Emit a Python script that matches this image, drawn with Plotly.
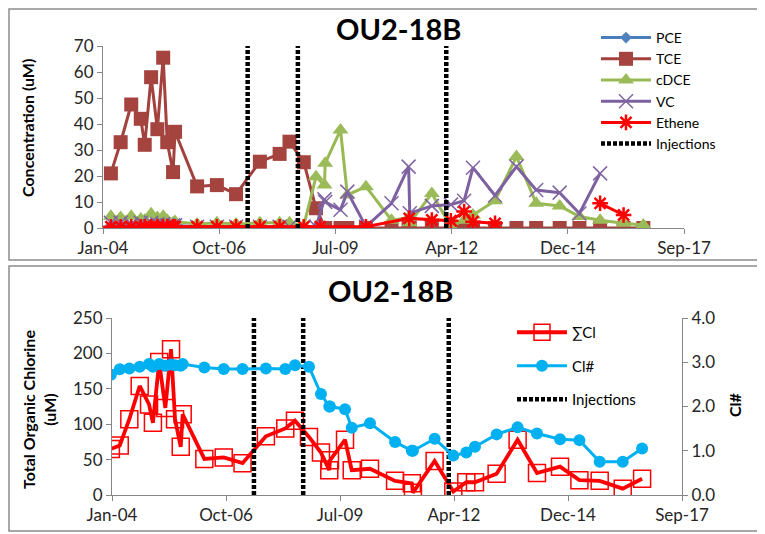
import pandas as pd
import plotly.graph_objects as go

W, H = 765, 534
# the page body adds an 8px margin around the plot div, so positions read off the
# reference are moved back by that amount
OX, OY = 8, 8
FONT = "Lato"
AXIS_GREY = "#868686"

# sampling events as Excel serial day numbers (38000 = Jan-04 ... 43000 = Sep-17)
sample_days = [37990, 38068, 38152, 38243, 38325, 38359, 38414, 38468, 38518, 38553,
               38603, 38620, 38810, 38980, 39145, 39350, 39520, 39605, 39728, 39833,
               39906, 39912, 40044, 40103, 40263, 40483, 40630, 40640, 40830, 40994,
               41108, 41184, 41374, 41558, 41728, 41930, 42100, 42278, 42480, 42650]

# top chart, concentrations (uM)
pce = [None, 1, 0.8, 1, 0.7, 0.5, 1, 0.8, 1, 0.6,
       0.5, 0.5, 0.3, 0.3, 0.3, 0.3, 0.3, 0.3, 0.3, 0.3] + [None] * 20
tce = [None, 21, 33, 47.5, 42, 32, 58, 38, 65.5, 33,
       21.5, 37, 16, 16.5, 13, 25.5, 28.5, 33.2, 25.3, 7.6] + [0] * 20
cdce = [None, 4.5, 4, 4.5, 3.5, 3, 5.5, 4, 4.5, 3,
        2, 2.5, 1.5, 2, 1.5, 2, 2, 2, 1, 19.7,
        16.5, 24.9, 37.7, 12.7, 15.9, 3, 4, 2, 13.3, 0.5,
        3, 5, 10.5, 27.5, 9.5, 8.5, 4.4, 3, 1.8, 1.2]
vc = [None, 2, 2, 1.5, 2, 1, 2, 1.5, 1.5, 1,
      1, 1, 0.5, 0.5, 0.5, 0.5, 0.5, 0.5, 0.5, 0.5,
      11, 10, 7, 14, 0.5, 9.5, 23.6, 5.7, 8.5, 9,
      10.5, 23.2, 12.5, 23.6, 14.6, 13.6, 5.6, 21, None, None]
ethene_days = [38068, 38152, 38243, 38325, 38359, 38414, 38468, 38518, 38553, 38603,
               38620, 38810, 38980, 39145, 39350, 39520, 39728, 39870, 40263, 40635,
               40830, 40994, 41108, 41184, 41374, None, 42278, 42480]
ethene = [0.5] * 11 + [0.5, 0.5, 0.5, 0.5, 0.5, 0.5, 0.5, 0.5, 3.7,
                       3.1, 2.8, 6.3, 2.4, 1.8, None, 9.5, 5]

# bottom chart
sum_cl = [65, 70, 107, 154, 128, 102, 188, 123, 206, 107,
          68, 114, 51, 53, 45, 83, 94, 105, 82, 60,
          35, 49, 78, 35, 37, 20, 16.5, 3.3, 48, 5,
          18, 18, 30, 78, 31, 40, 21, 20, 9, 23]
cl_number = [2.72, 2.84, 2.86, 2.90, 2.96, 2.90, 2.96, 2.92, 2.95, 2.93,
             2.92, 2.96, 2.88, 2.85, 2.85, 2.86, 2.85, 2.93, 2.90, 2.28,
             2.0, 2.0, 1.94, 1.52, 1.62, 1.2, 1.0, 1.0, 1.27, 0.89,
             0.96, 1.09, 1.37, 1.53, 1.39, 1.26, 1.24, 0.75, 0.75, 1.05]

injection_days = [39245, 39677, 40954]
tick_days = [38000, 39000, 40000, 41000, 42000, 43000]
tick_labels = ["Jan-04", "Oct-06", "Jul-09", "Apr-12", "Dec-14", "Sep-17"]


def to_date(days):
    base = pd.Timestamp("1899-12-30")
    return [None if d is None else base + pd.Timedelta(days=d) for d in days]


def px(x):
    return (x - OX) / W


def py(y):
    return 1 - (y - OY) / H


dates = to_date(sample_days)

fig = go.Figure()

top_series = [
    ("PCE", pce, dates, "#4A7EBB", dict(symbol="diamond", size=9, color="#4F81BD")),
    ("TCE", tce, dates, "#A3413E", dict(symbol="square", size=14, color="#A5433F")),
    ("cDCE", cdce, dates, "#98B954", dict(symbol="triangle-up", size=14, color="#9BBB59")),
    ("VC", vc, dates, "#7D60A0",
     dict(symbol="x-thin-open", size=14, color="#8064A2", line=dict(width=1.5, color="#8064A2"))),
    ("Ethene", ethene, to_date(ethene_days), "#FF0000",
     dict(symbol="asterisk-open", size=13, color="#FF0000", line=dict(width=2.5, color="#FF0000"))),
]
for name, vals, xs, col, mk in top_series:
    fig.add_trace(go.Scatter(x=xs, y=vals, name=name, mode="lines+markers",
                             line=dict(color=col, width=3), marker=mk,
                             xaxis="x", yaxis="y", legend="legend"))


def injection_trace(ymax, xa, ya, leg, group=None):
    xs, ys = [], []
    for d in to_date(injection_days):
        xs += [d, d, None]
        ys += [0, ymax, None]
    return go.Scatter(x=xs, y=ys, name="Injections", mode="lines",
                      line=dict(color="black", width=4.5, dash="4px,2px"),
                      xaxis=xa, yaxis=ya, legend=leg, legendgroup=group)


fig.add_trace(injection_trace(70, "x", "y", "legend"))

fig.add_trace(go.Scatter(x=dates, y=sum_cl, name="∑Cl", mode="lines+markers",
                         line=dict(color="#FF0000", width=3.8),
                         marker=dict(symbol="square-open", size=17, color="#FF0000",
                                     line=dict(width=1.5, color="#FF0000")),
                         xaxis="x2", yaxis="y3", legend="legend2", legendgroup="a"))
fig.add_trace(go.Scatter(x=dates, y=cl_number, name="Cl#", mode="lines+markers",
                         line=dict(color="#00B0F0", width=3),
                         marker=dict(symbol="circle", size=12, color="#00B0F0"),
                         xaxis="x2", yaxis="y4", legend="legend2", legendgroup="b"))
fig.add_trace(injection_trace(250, "x2", "y3", "legend2", "c"))

tick_font = dict(family=FONT, size=17, color="#262626")
common_x = dict(type="date", range=to_date([38000, 43000]), tickvals=to_date(tick_days),
                ticktext=tick_labels, ticks="outside", ticklen=5, tickcolor=AXIS_GREY,
                showline=True, linecolor=AXIS_GREY, linewidth=1, showgrid=False,
                zeroline=False, tickfont=tick_font, automargin=False)
common_y = dict(ticks="outside", ticklen=5, tickcolor=AXIS_GREY, showline=True,
                linecolor=AXIS_GREY, linewidth=1, showgrid=False, zeroline=False,
                tickfont=tick_font, automargin=False)

fig.update_layout(
    width=W, height=H,
    margin=dict(l=0, r=0, t=0, b=0, autoexpand=False),
    paper_bgcolor="white", plot_bgcolor="white",
    font=dict(family=FONT, color="black"),
    xaxis=dict(domain=[px(103), px(684)], anchor="y", **common_x),
    yaxis=dict(domain=[py(228), py(46)], anchor="x", range=[0, 70], dtick=10, **common_y),
    xaxis2=dict(domain=[px(112), px(682)], anchor="y3", **common_x),
    yaxis3=dict(domain=[py(495), py(318)], anchor="x2", range=[0, 250], dtick=50, **common_y),
    yaxis4=dict(overlaying="y3", anchor="x2", side="right", range=[0, 4], dtick=1,
                tickformat=".1f", **common_y),
    legend=dict(x=px(596), y=py(22), xanchor="left", yanchor="top", itemwidth=50,
                font=dict(family=FONT, size=14), bgcolor="rgba(0,0,0,0)"),
    legend2=dict(x=px(512), y=py(316), xanchor="left", yanchor="top", itemwidth=50,
                 traceorder="grouped", tracegroupgap=11,
                 font=dict(family=FONT, size=15), bgcolor="rgba(0,0,0,0)"),
    shapes=[
        dict(type="rect", xref="paper", yref="paper", x0=px(9), x1=px(761), y0=py(260), y1=0.998,
             line=dict(color="#8C8C8C", width=1.5)),
        dict(type="rect", xref="paper", yref="paper", x0=px(9), x1=px(763), y0=py(531), y1=py(266),
             line=dict(color="#8C8C8C", width=1.5)),
    ],
    showlegend=True,
)

title_font = dict(family=FONT, size=29, color="black")
label_font = dict(family=FONT, size=16, color="black")
annotations = [
    dict(text="<b>OU2-18B</b>", x=px(398), y=py(29), font=title_font),
    dict(text="<b>OU2-18B</b>", x=px(390), y=py(290), font=title_font),
    dict(text="<b>Concentration (uM)</b>", x=px(27), y=py(128), textangle=-90, font=label_font),
    dict(text="<b>Total Organic Chlorine<br>(uM)</b>", x=px(39), y=py(410), textangle=-90,
         font=label_font),
    dict(text="<b>Cl#</b>", x=px(734), y=py(405), textangle=-90, font=label_font),
]
for a in annotations:
    fig.add_annotation(xref="paper", yref="paper", showarrow=False, xanchor="center",
                       yanchor="middle", **a)

fig.write_html("out.html")
